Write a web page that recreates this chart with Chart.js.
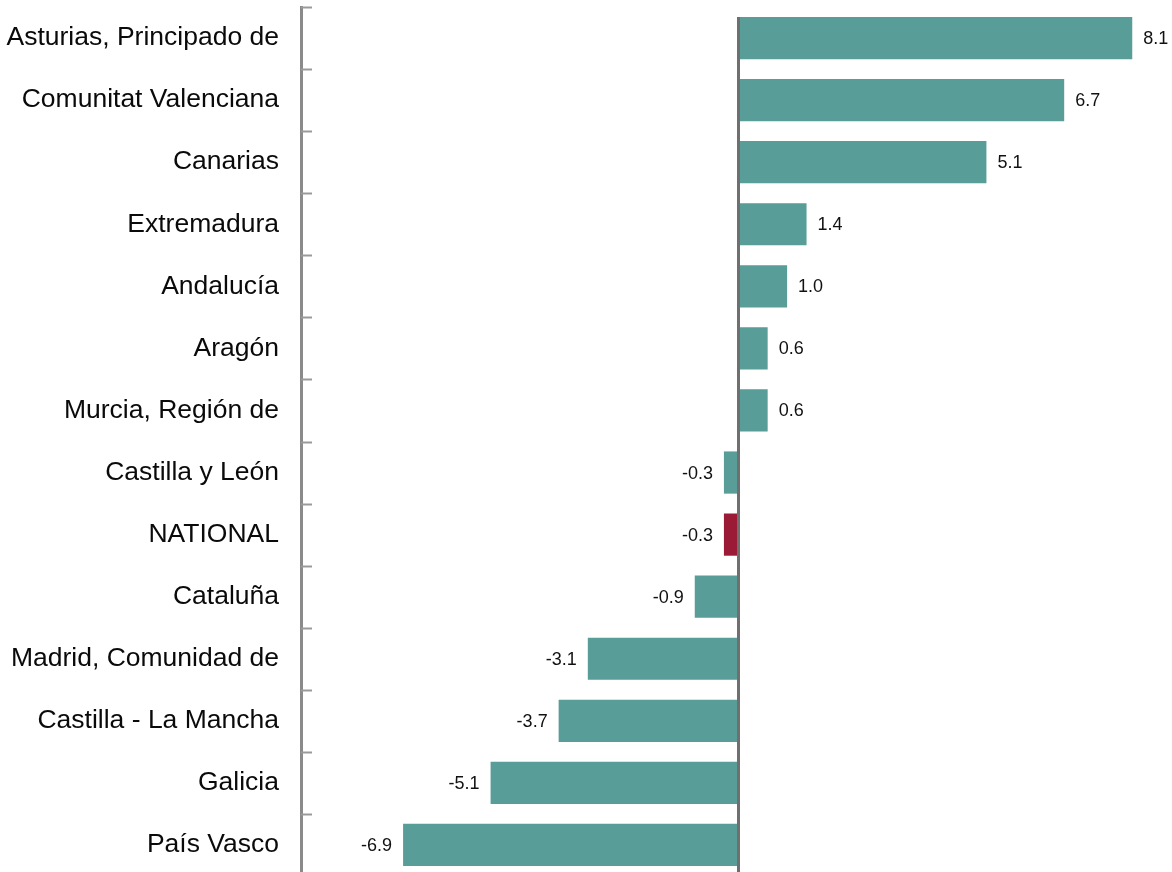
<!DOCTYPE html>
<html>
<head>
<meta charset="utf-8">
<script src="https://cdn.jsdelivr.net/npm/chart.js@4"></script>
<style>
  html, body { margin: 0; padding: 0; background: #fff; overflow: hidden; }
  #wrap { width: 1176px; height: 876px; }
</style>
</head>
<body>
<div id="wrap"><canvas id="regionChart"></canvas></div>
<script>
const regions = [
  "Asturias, Principado de", "Comunitat Valenciana", "Canarias", "Extremadura",
  "Andalucía", "Aragón", "Murcia, Región de", "Castilla y León", "NATIONAL",
  "Cataluña", "Madrid, Comunidad de", "Castilla - La Mancha", "Galicia", "País Vasco"
];
const changes = [8.1, 6.7, 5.1, 1.4, 1.0, 0.6, 0.6, -0.3, -0.3, -0.9, -3.1, -3.7, -5.1, -6.9];

const teal = "#589d98";
const red = "#9b1b36";

// value labels next to the bar ends
const valueLabels = {
  id: "valueLabels",
  afterDatasetsDraw(chart) {
    const {ctx} = chart;
    const meta = chart.getDatasetMeta(0);
    ctx.save();
    ctx.font = "18px 'Liberation Sans', Arial, sans-serif";
    ctx.fillStyle = "#111";
    ctx.textBaseline = "middle";
    meta.data.forEach((bar, i) => {
      const v = changes[i];
      if (v >= 0) {
        ctx.textAlign = "left";
        ctx.fillText(v.toFixed(1), bar.x + 11, bar.y + 1);
      } else {
        ctx.textAlign = "right";
        ctx.fillText(v.toFixed(1), bar.x - 11, bar.y + 1);
      }
    });
    ctx.restore();
  }
};

// zero line on top of bars + small tick marks inside the category axis
const axisMarks = {
  id: "axisMarks",
  afterDatasetsDraw(chart) {
    const {ctx, chartArea, scales} = chart;
    const first = chart.getDatasetMeta(0).data[0];
    ctx.save();
    const x0 = scales.x.getPixelForValue(0);
    ctx.strokeStyle = "#6f6f6f";
    ctx.lineWidth = 3;
    ctx.beginPath();
    ctx.moveTo(x0, first.y - first.height / 2);
    ctx.lineTo(x0, chartArea.bottom);
    ctx.stroke();

    ctx.strokeStyle = "#9a9a9a";
    ctx.lineWidth = 2;
    for (let i = 0; i < regions.length; i++) {
      const y = Math.round(scales.y.getPixelForValue(i - 0.5)) + 0.5;
      ctx.beginPath();
      ctx.moveTo(chartArea.left, y);
      ctx.lineTo(chartArea.left + 11, y);
      ctx.stroke();
    }
    ctx.restore();
  }
};

new Chart(document.getElementById("regionChart"), {
  type: "bar",
  data: {
    labels: regions,
    datasets: [{
      data: changes,
      backgroundColor: regions.map(r => r === "NATIONAL" ? red : teal),
      borderWidth: 0,
      barPercentage: 0.68,
      categoryPercentage: 1.0
    }]
  },
  options: {
    indexAxis: "y",
    responsive: true,
    maintainAspectRatio: false,
    animation: false,
    layout: { padding: { top: 7, right: 0, bottom: 0, left: 0 } },
    plugins: {
      legend: { display: false },
      tooltip: { enabled: false }
    },
    scales: {
      x: {
        min: -9,
        max: 9,
        display: false
      },
      y: {
        afterFit(scale) {
          scale.width = 301;
          scale.paddingTop = 0;
          scale.paddingBottom = 0;
        },
        grid: { display: false, drawTicks: false },
        border: { display: true, color: "#8a8a8a", width: 3 },
        ticks: {
          padding: 22,
          color: "#0a0a0a",
          font: { family: "'Liberation Sans', Arial, sans-serif", size: 26.5 }
        }
      }
    }
  },
  plugins: [valueLabels, axisMarks]
});
</script>
</body>
</html>
